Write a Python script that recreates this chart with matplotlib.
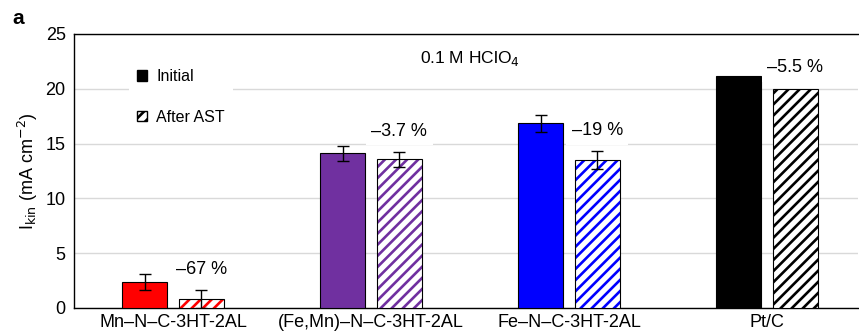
import numpy as np
import matplotlib
matplotlib.use("Agg")
import matplotlib.pyplot as plt
from matplotlib.patches import Patch

plt.rcParams['font.family'] = ['Liberation Sans', 'DejaVu Sans']
plt.rcParams['hatch.linewidth'] = 1.9

# данные
catalysts = ["Mn–N–C-3HT-2AL", "(Fe,Mn)–N–C-3HT-2AL", "Fe–N–C-3HT-2AL", "Pt/C"]
initial = [2.35, 14.1, 16.85, 21.2]
initial_err = [0.75, 0.68, 0.8, 0.0]
after_ast = [0.8, 13.55, 13.5, 20.0]
after_err = [0.8, 0.67, 0.8, 0.0]
change_labels = ["–67 %", "–3.7 %", "–19 %", "–5.5 %"]
colors = ["#ff0000", "#7030a0", "#0000ff", "#000000"]

fig = plt.figure(figsize=(8.59, 3.34), dpi=100)
ax = fig.add_axes([74 / 859, 26 / 334, 784 / 859, 274 / 334])

x = np.arange(len(catalysts))
w = 0.227
off = 0.143

ax.bar(x - off, initial, w, color=colors, edgecolor="black", linewidth=0.8, zorder=3)

# штриховка цветом серии, контур чёрный
for i in range(len(catalysts)):
    ax.bar(x[i] + off, after_ast[i], w, facecolor="white", edgecolor=colors[i],
           hatch="///", linewidth=0, zorder=3)
ax.bar(x + off, after_ast, w, fill=False, edgecolor="black", linewidth=0.8, zorder=3)

# планки погрешностей только там, где они есть (у Pt/C нет)
for i in range(len(catalysts)):
    if initial_err[i] > 0:
        ax.errorbar(x[i] - off, initial[i], yerr=initial_err[i], fmt="none", ecolor="black",
                    elinewidth=1, capsize=4, capthick=1, zorder=4)
    if after_err[i] > 0:
        ax.errorbar(x[i] + off, after_ast[i], yerr=after_err[i], fmt="none", ecolor="black",
                    elinewidth=1, capsize=4, capthick=1, zorder=4)

for i, lab in enumerate(change_labels):
    ypos = after_ast[i] + after_err[i] + 1.9
    ax.text(x[i] + off, ypos, lab, ha="center", va="center", fontsize=13,
            zorder=5, bbox=dict(facecolor="white", edgecolor="none", pad=4))

ax.text(1.5, 22.8, r"0.1 M HClO$_4$", ha="center", va="center", fontsize=12.5)

ax.set_xlim(-0.5, 3.46)
ax.set_ylim(0, 25)
ax.set_yticks([0, 5, 10, 15, 20, 25])
ax.set_xticks(x)
ax.set_xticklabels(catalysts, fontsize=13)
ax.tick_params(axis="y", length=0, pad=6, labelsize=13)
ax.tick_params(axis="x", length=0, pad=4)
ax.yaxis.grid(True, color="#d9d9d9", linewidth=1, zorder=0)
ax.set_axisbelow(True)
ax.spines["right"].set_visible(False)
for s in ["left", "top", "bottom"]:
    ax.spines[s].set_linewidth(1)

ax.set_ylabel(r"I$_{\mathrm{kin}}$ (mA cm$^{-2}$)", fontsize=13, labelpad=4)

handles = [Patch(facecolor="black", edgecolor="black"),
           Patch(facecolor="white", edgecolor="black", hatch="///")]
leg = ax.legend(handles, ["Initial", "After AST"], loc="upper left",
                bbox_to_anchor=(0.06, 0.93), frameon=True, fancybox=False,
                edgecolor="none", framealpha=1, fontsize=11.5, handlelength=0.6,
                handleheight=0.6, handletextpad=0.6, labelspacing=1.6,
                borderpad=0.5)
leg.set_zorder(5)

fig.text(12 / 859, 1 - 19 / 334, "a", fontsize=15, fontweight="bold", va="center")

fig.savefig("out.png", dpi=100)
